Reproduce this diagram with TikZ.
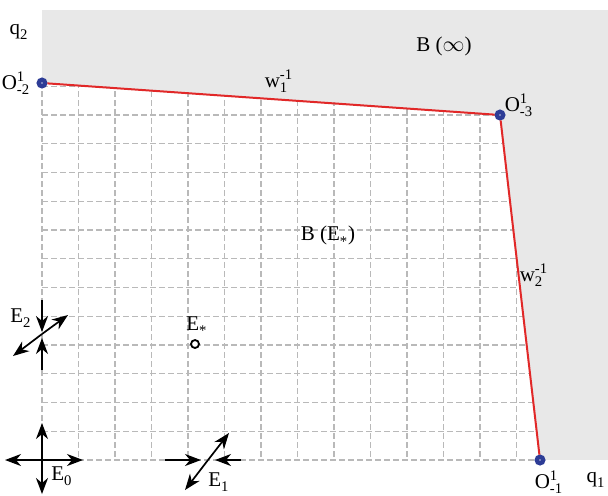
\documentclass[tikz,border=0pt]{standalone}
\usepackage{amsmath}
\usepackage{fontspec}
\setmainfont{Liberation Serif}
\usetikzlibrary{arrows.meta, positioning, calc}
\definecolor{bgcolor}   {RGB}{232, 232, 232}
\definecolor{curvecolor}{RGB}{225,  40,  40}
\definecolor{ptcolor}   {RGB}{ 45,  60, 150}
\definecolor{gridcolor} {RGB}{185, 185, 185}
\newcommand{\supsub}[2]{$^{\text{#1}}_{\text{#2}}$}
\tikzset{
	gridline/.style={
		draw=gridcolor, dash pattern=on 3pt off 1.5pt, line width=0.55pt
	},
	curve/.style={
		draw=curvecolor, line width=1pt
	},
	ptdot/.style={
		circle, draw=ptcolor, fill=white, line width=2.2pt,
		minimum size=3.2pt, inner sep=0pt
	},
	eqdot/.style={
		circle, draw=black, fill=white, line width=0.9pt,
		minimum size=4pt, inner sep=0pt
	},
	flow/.style={
		-{Stealth[length=8pt, width=6pt, inset=2.5pt]}, line width=0.85pt, color=black
	},
	lbl/.style={
		font=\fontsize{10.5}{12}\selectfont, inner sep=0pt
	}
}

\begin{document}
\begin{tikzpicture}[x=0.5pt, y=-0.5pt]
		\useasboundingbox (0,0) rectangle (608,495);
		%% ═══════════════════════════════
		%%  REGIONS
		%% ═══════════════════════════════
		\fill[bgcolor] (42,10) rectangle (608,460);
		\fill[white] (42,83) -- (500,115) -- (540,460) -- (42,460) -- cycle;
		
		\begin{scope}
			\clip (41,82) -- (501,114) -- (541,461) -- (41,461) -- cycle;
			\foreach \i in {0,...,13}
			\draw[gridline] (42+36.5*\i,10) -- (42+36.5*\i,460);
			\foreach \j in {0,...,13}
			\draw[gridline] (42,460-28.75*\j) -- (608,460-28.75*\j);
		\end{scope}
		
		%% ═══════════════════════════════
		%%  VERTICES  O
		%% ═══════════════════════════════
		\node[ptdot] (o2) at (42,83)   {};
		\node[ptdot] (o3) at (500,115) {};
		\node[ptdot] (o1) at (540,460) {};
		
		\draw[curve] (o2) -- (o3);
		\draw[curve] (o3) -- (o1);
		
		%% ═══════════════════════════════
		%%  EQUILIBRIA
		%% ═══════════════════════════════
		\coordinate (e0) at (42,460);
		\coordinate (e1) at (208,460);
		\coordinate (e2) at (42,334);
		\node[eqdot] (estar) at (195,344) {};
		\fill[ptcolor] (e0) circle (1.8);
		
		% E0 : all outward
		\coordinate (e0u) at (42,423);
		\coordinate (e0d) at (42,494);
		\coordinate (e0l) at (5,460);
		\coordinate (e0r) at (83,460);
		\draw[flow] (e0) -- (e0u);
		\draw[flow] (e0) -- (e0d);
		\draw[flow] (e0) -- (e0l);
		\draw[flow] (e0) -- (e0r);
		
		% E1 : in along q1, out along diagonal
		\coordinate (e1l) at (165,460);
		\coordinate (e1r) at (241,460);
		\coordinate (e1a) at (229,433);
		\coordinate (e1b) at (185,490);
		\draw[flow] (e1l) -- ($(e1)+(-7,0)$);
		\draw[flow] (e1r) -- ($(e1)+(7,0)$);
		\draw[flow] (e1) -- (e1a);
		\draw[flow] (e1) -- (e1b);
		
		% E2 : in along q2, out along diagonal
		\coordinate (e2t) at (42,300);
		\coordinate (e2b) at (42,370);
		\coordinate (e2a) at (68,315);
		\coordinate (e2c) at (13,356);
		\draw[flow] (e2t) -- ($(e2)+(0,-2)$);
		\draw[flow] (e2b) -- ($(e2)+(0,4)$);
		\draw[flow] (e2) -- (e2a);
		\draw[flow] (e2) -- (e2c);
		
		%% ═══════════════════════════════
		%%  LABELS
		%% ═══════════════════════════════
		\node[lbl] (q2lbl) at (19,32)   {q\supsub{}{2}};
		\node[lbl] (q1lbl) at (596,480) {q\supsub{}{1}};
		\node[lbl, left=3pt of o2] (o2lbl) {O\supsub{1}{-2}};
		\node[lbl] (o3lbl) at (519,105) {O\supsub{1}{-3}};
		\node[lbl] (o1lbl) at (549,482) {O\supsub{1}{-1}};
		\node[lbl] (w1lbl) at (279,81)  {w\supsub{-1}{1}};
		\node[lbl] (w2lbl) at (534,275) {w\supsub{-1}{2}};
		\node[lbl] (binf)  at (444,46)  {B ($\infty$)};
		\node[lbl] (bestar) at (328,236) {B (E\supsub{}{*})};
		\node[lbl] (esl)   at (197,326) {E\supsub{}{*}};
		\node[lbl] (e2lbl) at (21,318)  {E\supsub{}{2}};
		\node[lbl] (e0lbl) at (62,476)  {E\supsub{}{0}};
		\node[lbl] (e1lbl) at (219,482) {E\supsub{}{1}};
		
	\end{tikzpicture}
\end{document}
